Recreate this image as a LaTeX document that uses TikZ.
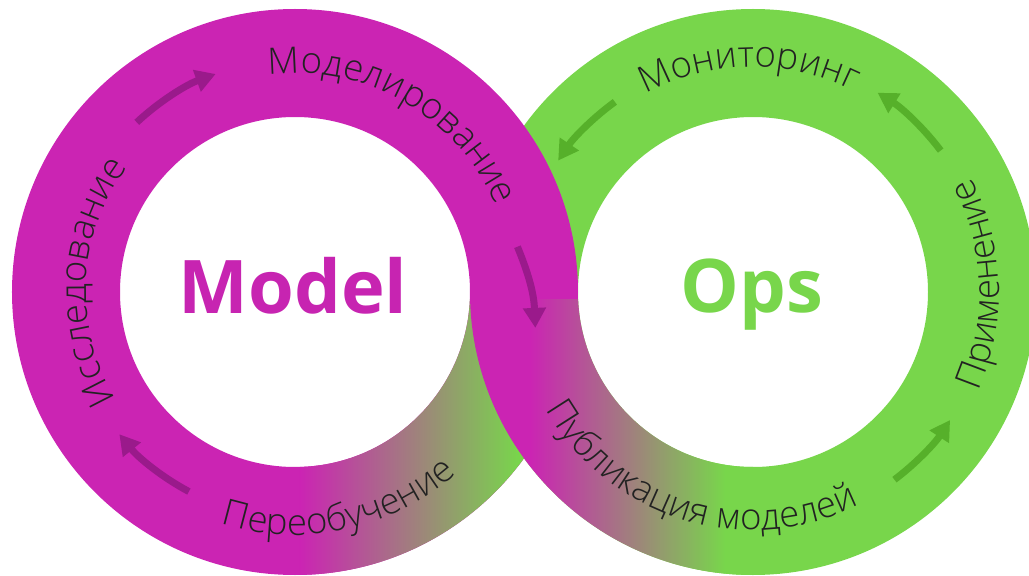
\documentclass[tikz,border=0pt]{standalone}
\usepackage{fontspec}
\setmainfont{Open Sans}
\newfontfamily\lightfont{Open Sans Light}
\usetikzlibrary{decorations.text,arrows.meta}
\definecolor{mag}{HTML}{CB24B3}
\definecolor{grn}{HTML}{78D64B}
\definecolor{magd}{HTML}{9A1A8B}
\definecolor{grnd}{HTML}{56B02A}
\definecolor{txt}{HTML}{222222}
\definecolor{magt}{HTML}{C724B1}
\newcommand\lbl{\lightfont\fontsize{36.5}{40}\selectfont}
\tikzset{
  arrm/.style={draw=magd, line width=7pt, -{Triangle[length=20pt,width=22pt]}},
  arrg/.style={draw=grnd, line width=7pt, -{Triangle[length=20pt,width=22pt]}},
  ringtext/.style={decorate, decoration={text along path, text align=center, text color=txt, text={|\lbl|#1}}},
  bigtitle/.style={anchor=base, inner sep=0pt, font=\fontsize{74}{80}\selectfont\bfseries}
}
\begin{document}
\begin{tikzpicture}[x=1pt,y=1pt]
\useasboundingbox (-295,-284) rectangle (734,292);
\coordinate (L) at (0,0);
\coordinate (R) at (458,0);
% right ring (green)
\fill[grn, even odd rule] (R) circle[radius=283] (R) circle[radius=175];
% left ring (magenta)
\fill[mag, even odd rule] (L) circle[radius=283] (L) circle[radius=175];
\begin{scope}[even odd rule]
  \clip (0,-7) rectangle (300,-300);
  \clip (L) circle[radius=283] (L) circle[radius=175];
  \shade[left color=mag, right color=grn] (5,-300) rectangle (225,0);
  \fill[grn] (225,-300) rectangle (300,0);
\end{scope}
% lower-left part of right ring, on top
\begin{scope}[even odd rule]
  \clip (150,-7) rectangle (458,-300);
  \clip (R) circle[radius=283] (R) circle[radius=175];
  \fill[mag] (150,-300) rectangle (235,0);
  \shade[left color=mag, right color=grn] (235,-300) rectangle (430,0);
  \fill[grn] (430,-300) rectangle (460,0);
\end{scope}
% arrows
\coordinate (a2s) at ([shift={(11.5:227)}]L);
\coordinate (a2e) at ([shift={(-8.5:243)}]L);
\draw[arrm] ([shift={(133:232)}]L) arc[start angle=133, end angle=110, radius=232];
\draw[arrm] (a2s) to[bend left=10] (a2e);
\draw[arrm] ([shift={(242:226)}]L) arc[start angle=242, end angle=219, radius=226];
\draw[arrg] ([shift={(126:235)}]R) arc[start angle=126, end angle=146, radius=235];
\draw[arrg] ([shift={(37:235)}]R) arc[start angle=37, end angle=58, radius=235];
\draw[arrg] ([shift={(-53:235)}]R) arc[start angle=-53, end angle=-33, radius=235];
% ring texts
\path[ringtext={Моделирование}] ([shift={(110:219)}]L) arc[start angle=110, end angle=10, radius=219];
\path[ringtext={Исследование}] ([shift={(227:209)}]L) arc[start angle=227, end angle=127, radius=209];
\path[ringtext={Переобучение}] ([shift={(232:243)}]L) arc[start angle=232, end angle=332, radius=243];
\path[ringtext={Мониторинг}] ([shift={(141:225)}]R) arc[start angle=141, end angle=41, radius=225];
\path[ringtext={Применение}] ([shift={(-48:246)}]R) arc[start angle=-48, end angle=52, radius=246];
\path[ringtext={Публикация моделей}] ([shift={(183:238)}]R) arc[start angle=183, end angle=323, radius=238];
% titles
\node[bigtitle, text=magt] (model) at (-2,-21) {Model};
\node[bigtitle, text=grn] (ops) at (457,-20) {Ops};
\end{tikzpicture}
\end{document}
